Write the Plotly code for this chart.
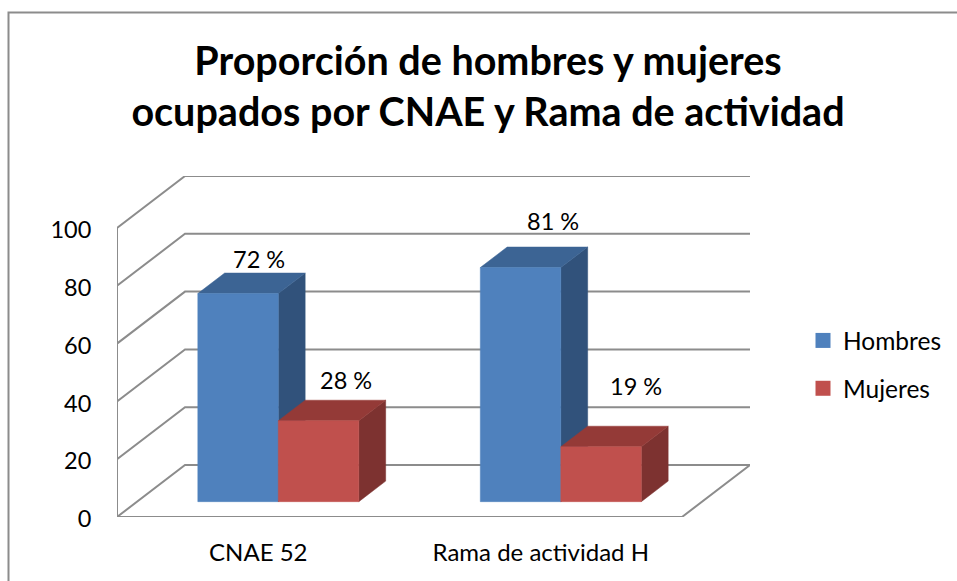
import plotly.graph_objects as go

# ---- data ----
categories = ["CNAE 52", "Rama de actividad H"]
series_names = ["Hombres", "Mujeres"]
hombres = [72, 81]
mujeres = [28, 19]
y_ticks = [0, 20, 40, 60, 80, 100]
title_text = "Proporción de hombres y mujeres<br>ocupados por CNAE y Rama de actividad"

# ---- styles ----
W, H = 957, 581
FONT = "Lato"
GRID = "#8c8c8c"
FRONT = ["#4F81BD", "#C0504D"]
TOP = ["#3C6494", "#943A37"]
SIDE = ["#31527B", "#7D3230"]

# plot box in pixels
PX_L, PX_R, PX_T, PX_B = 117, 750, 176, 517
PX_PER_CAT = 282.5
PX_PER_UNIT = 2.89
DEPTH_X = 68 / PX_PER_CAT      # oblique depth, in category units
DEPTH_Y = 52 / PX_PER_UNIT     # oblique depth, in value units
X_MAX = (PX_R - PX_L) / PX_PER_CAT
Y_MAX = (PX_B - PX_T) / PX_PER_UNIT
BAR_W = 80.5 / PX_PER_CAT
D_FRONT, D_BACK = 0.295, 0.69  # bar depth span as a fraction of the floor depth
CAT_SPAN = 2

def proj(x, y, d):
    return x + d * DEPTH_X, y + d * DEPTH_Y

def poly(points, color, line=None):
    xs, ys = zip(*points)
    return go.Scatter(x=list(xs) + [xs[0]], y=list(ys) + [ys[0]], mode="lines", fill="toself",
                      fillcolor=color, line=dict(color=line or color, width=0.5),
                      hoverinfo="skip", showlegend=False)

fig = go.Figure()

# walls and floor
for t in y_ticks:
    xs = [0, proj(0, t, 1)[0], proj(CAT_SPAN, t, 1)[0]]
    ys = [t, t + DEPTH_Y, t + DEPTH_Y]
    fig.add_trace(go.Scatter(x=xs, y=ys, mode="lines", line=dict(color=GRID, width=2),
                             hoverinfo="skip", showlegend=False))
fig.add_trace(go.Scatter(
    x=[0, 0, CAT_SPAN, CAT_SPAN + DEPTH_X], y=[y_ticks[-1], 0, 0, DEPTH_Y], mode="lines",
    line=dict(color=GRID, width=2), hoverinfo="skip", showlegend=False))

# bars
for s, values in enumerate([hombres, mujeres]):
    for c, v in enumerate(values):
        x0 = c + 0.5 + (s - 1) * BAR_W
        x1 = x0 + BAR_W
        f = lambda x, y: proj(x, y, D_FRONT)
        b = lambda x, y: proj(x, y, D_BACK)
        fig.add_trace(poly([f(x1, 0), b(x1, 0), b(x1, v), f(x1, v)], SIDE[s]))
        fig.add_trace(poly([f(x0, v), f(x1, v), b(x1, v), b(x0, v)], TOP[s]))
        fig.add_trace(poly([f(x0, 0), f(x1, 0), f(x1, v), f(x0, v)], FRONT[s]))

# legend entries
for s, name in enumerate(series_names):
    fig.add_trace(go.Scatter(x=[None], y=[None], mode="markers", name=name, legendgroup=name,
                             marker=dict(symbol="square", size=15, color=FRONT[s])))

# value labels, anchored at the front top centre of each bar
shifts = {(0, 0): (21, 35), (0, 1): (32, 47), (1, 0): (27, 41), (1, 1): (35, 61)}
annotations = []
for s, values in enumerate([hombres, mujeres]):
    for c, v in enumerate(values):
        x0 = c + 0.5 + (s - 1) * BAR_W
        ax, ay = proj(x0 + BAR_W / 2, v, D_FRONT)
        dx, dy = shifts[(s, c)]
        annotations.append(dict(x=ax, y=ay, xref="x", yref="y", text=f"{v} %", showarrow=False,
                                xshift=dx, yshift=dy, font=dict(family=FONT, size=23.5, color="#000")))

fig.update_layout(
    template="none",
    width=W, height=H, autosize=False,
    margin=dict(l=0, r=0, t=0, b=0, pad=0),
    paper_bgcolor="white", plot_bgcolor="rgba(0,0,0,0)",
    title=dict(text=title_text, x=488 / W, xanchor="center", y=1 - 75 / H, yanchor="middle",
               font=dict(family=FONT, size=39.5, color="#000", weight="bold")),
    xaxis=dict(domain=[PX_L / W, PX_R / W], range=[0, X_MAX], tickmode="array", automargin=False,
               tickvals=[0.5, 1.5], ticktext=categories, showgrid=False, zeroline=False,
               showline=False, ticks="outside", ticklen=14, tickcolor="rgba(0,0,0,0)",
               tickfont=dict(family=FONT, size=24, color="#000")),
    yaxis=dict(domain=[1 - PX_B / H, 1 - PX_T / H], range=[0, Y_MAX], tickmode="array", automargin=False,
               tickvals=y_ticks, showgrid=False, zeroline=False, showline=False,
               ticks="outside", ticklen=20, tickcolor="rgba(0,0,0,0)", ticklabelshift=2,
               tickfont=dict(family=FONT, size=23.5, color="#000")),
    legend=dict(x=806 / W, y=1 - 318 / H, xanchor="left", yanchor="top", tracegroupgap=13,
                itemwidth=30, bgcolor="rgba(0,0,0,0)",
                indentation=-3, font=dict(family=FONT, size=24.5, color="#000")),
    annotations=annotations,
    shapes=[dict(type="path", xref="paper", yref="paper",
                 path=f"M {8.5 / W} 0 L {8.5 / W} {1 - 12.5 / H} L 1 {1 - 12.5 / H}",
                 line=dict(color="#8c8c8c", width=2))],
)

fig.write_html("out.html", config=dict(displayModeBar=False),
               post_script="document.body.style.margin='0';")
